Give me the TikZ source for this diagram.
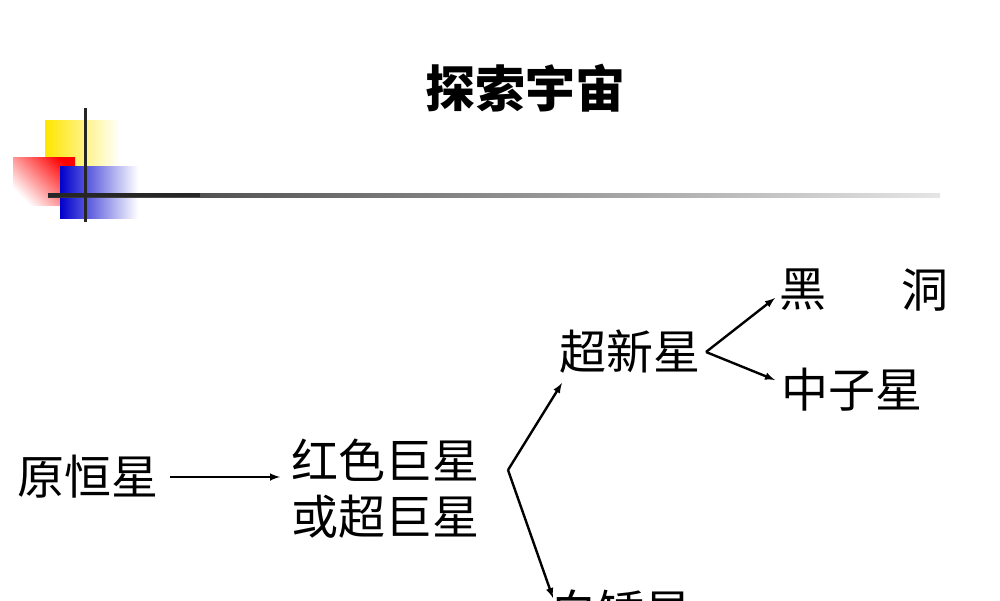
\documentclass[tikz,border=0pt]{standalone}
\usepackage{fontspec}
\newfontfamily\cjk{Noto Sans CJK SC}
\begin{document}
\begin{tikzpicture}[x=1pt,y=-1pt,
  lbl/.style={font=\cjk\fontsize{47}{52}\selectfont,inner sep=0pt},
  arr/.style={-latex,line width=2.4pt}]
\useasboundingbox (0,0) rectangle (1000,600);
\clip (0,0) rectangle (1000,600);
% decoration
\shade[left color=yellow!80!orange,right color=white] (45,120) rectangle (120,190);
\shade[top color=red,bottom color=white,shading angle=-45] (13,157) rectangle (75,205);
\shade[left color=blue!80!black,right color=white] (60,166) rectangle (138,218);
\shade[left color=black!80,right color=black!10] (48,193) rectangle (940,197);
\fill[black!85] (48,193) rectangle (200,197);
\draw[line width=3pt,black!85] (85,108) -- (85,222);
% title
\node[font=\cjk\bfseries\fontsize{50}{56}\selectfont,inner sep=0pt] (title) at (525,88) {探索宇宙};
% nodes
\node[lbl] (a) at (88,477) {原恒星};
\node[lbl,align=center] (b) at (385,489) {红色巨星\\[4pt]或超巨星};
\node[lbl] (c) at (630,352) {超新星};
\node[lbl] (d1) at (803,290) {黑};
\node[lbl] (d2) at (925,290) {洞};
\node[lbl] (e) at (852,390) {中子星};
\node[lbl,anchor=north west] (f) at (550,590) {白矮星};
\coordinate (v1) at (508,470);
\coordinate (v2) at (706,352);
\draw[arr] (170,477) -- (280,477);
\draw[arr] (v1) -- (562,383);
\draw[arr] (v1) -- (553,598);
\draw[arr] (v2) -- (775,298);
\draw[arr] (v2) -- (775,380);
\end{tikzpicture}
\end{document}
